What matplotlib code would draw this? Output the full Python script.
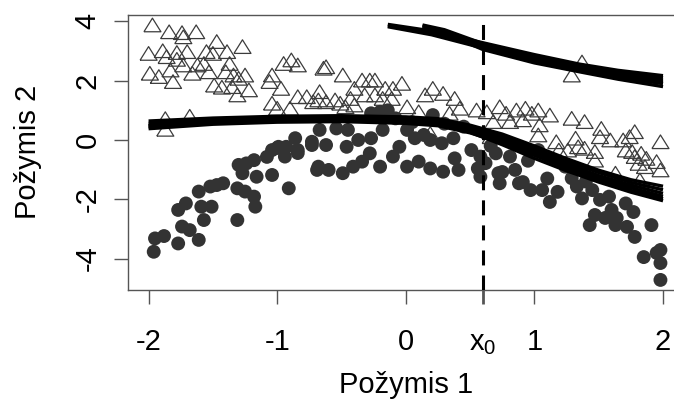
"""Two classes of points (triangles / filled circles) with fitted curve bundles and x0 marker."""
import matplotlib
matplotlib.use("Agg")
import matplotlib.pyplot as plt

plt.rcParams["font.family"] = ["Liberation Sans", "DejaVu Sans"]
plt.rcParams["axes.unicode_minus"] = False

# --- data ----------------------------------------------------------------
X0 = 0.60

TRI_X = [-1.97, -1.84, -1.74, -1.73, -1.63, -1.47, -1.27, -2.00, -1.89, -1.86,
         -1.78, -1.78, -1.70, -1.62, -1.55, -1.50, -1.39, -1.73, -1.99, -1.92,
         -1.83, -1.81, -1.66, -1.57, -1.53, -1.49, -1.43, -1.37, -1.34, -1.30,
         -1.25, -1.31, -1.22, -1.35, -1.40,
         -0.95, -0.89, -0.84, -1.04, -1.06, -0.97, -1.04, -1.00, -0.90, -0.84,
         -0.77, -0.68, -0.67, -0.64, -0.62, -0.49, -0.72, -0.62, -0.55, -0.51,
         -0.43, -0.40, -0.34, -0.28, -0.24, -0.24, -0.16, -0.10, -0.47, -0.40,
         -0.32, -0.18, -0.11, -0.03,
         0.15, 0.21, 0.29, 0.38, 0.01, 0.10, 0.34, 0.42, 0.55, 0.63,
         0.73, 0.78, 0.86, 0.93, 0.98, 0.68, 0.81, 0.91, 0.19, 0.66,
         1.03, 1.12, 1.29, 1.39, 1.52, 1.78, 1.98, 1.04, 1.03, 1.17,
         1.32, 1.34, 1.39, 1.47, 1.47, 1.51, 1.59, 1.69, 1.74, 1.71,
         1.76, 1.78, 1.83, 1.87, 1.81, 1.86, 1.95, 1.98, 1.63, 1.82,
         1.26, 1.19,
         -1.87, -1.87, -1.68, 1.37, 1.29]
TRI_Y = [3.88, 3.65, 3.62, 3.48, 3.65, 3.32, 3.15, 2.92, 3.01, 2.81,
         2.95, 2.72, 2.98, 2.53, 2.98, 2.92, 2.98, 2.53, 2.25, 2.14,
         2.36, 1.97, 2.25, 2.58, 2.30, 1.85, 1.78, 2.58, 2.19, 2.08,
         2.19, 1.52, 1.69, 1.80, 2.30,
         2.58, 2.70, 2.53, 2.19, 1.97, 1.74, 1.24, 1.07, 1.07, 1.46,
         1.46, 1.35, 1.63, 2.42, 2.47, 2.19, 1.29, 1.29, 1.35, 1.24,
         1.40, 1.74, 2.02, 2.02, 2.02, 1.52, 1.74, 1.74, 1.12, 1.18,
         1.52, 1.40, 1.40, 1.91,
         1.52, 1.74, 1.57, 1.40, 1.12, 0.95, 0.90, 1.07, 1.01, 0.95,
         1.12, 0.90, 1.01, 1.07, 0.90, 0.62, 0.62, 0.68, 0.22, 0.11,
         1.01, 0.84, 0.73, 0.62, 0.39, 0.28, -0.06, 0.51, 0.17, -0.06,
         0.06, -0.23, -0.28, -0.39, -0.68, 0.11, 0.00, 0.00, 0.11, -0.34,
         -0.39, -0.56, -0.45, -0.62, -0.79, -0.90, -0.73, -1.01, -1.12, -1.35,
         -0.34, -0.34,
         0.72, 0.36, 0.80, 2.63, 2.19]

CIR_X = [-1.96, -1.95, -1.88, -1.77, -1.61, -1.74, -1.68, -1.77, -1.71, -1.59,
         -1.57, -1.51, -1.61, -1.52, -1.42, -1.47, -1.31, -1.31, -1.25, -1.17,
         -1.18, -1.30, -1.27, -1.18, -1.16, -1.24,
         -1.08, -1.00, -0.93, -0.84, -0.69, -0.73,
         -1.04, -0.99, -0.94, -1.04, -0.91, -0.86, -0.84, -0.73, -0.67, -0.62,
         -0.68, -0.60, -0.54, -0.45, -0.46, -0.37, -0.49, -0.41, -0.34, -0.27,
         -0.28, -0.20, -0.18, -0.10, -0.27, -0.20, -0.08, -0.14,
         0.01, 0.21, 0.07, 0.19, 0.28, 0.37, 0.01, 0.10, 0.19, 0.29,
         0.41, 0.38, 0.51, 0.58, 0.56, 0.58, 0.72, 0.73, 0.85, 0.88,
         0.97, 0.81, -0.05, 0.14, 0.05, 0.30, 0.45,
         1.03, 0.62, 0.75, 0.91, 1.06, 1.12, 1.18, 1.29, 1.24, 1.33,
         1.37, 1.45, 1.51, 1.43, 1.47, 1.55, 1.60, 1.64, 1.63, 1.72,
         1.77, 1.71, 1.58, 1.78, 1.91, 1.85, 1.95, 1.98, 1.98, 1.98,
         0.66, 0.70, 0.95, 1.10, 1.40]
CIR_Y = [-3.77, -3.32, -3.24, -3.49, -3.37, -2.92, -3.04, -2.36, -2.14, -2.25,
         -2.70, -2.25, -1.74, -1.57, -1.46, -1.52, -2.70, -1.63, -1.74, -2.25,
         -1.91, -0.84, -1.12, -0.68, -1.24, -0.79,
         -0.57, -0.27, -0.23, -0.44, -1.01, -0.17,
         -0.34, -0.23, -0.56, -1.18, -1.63, 0.06, -0.34, -0.06, 0.34, -0.17,
         -0.90, -1.01, 0.39, 0.34, -0.23, 0.00, -1.12, -0.90, -0.73, 0.06,
         -0.45, -0.90, 0.34, -0.56, 0.90, 0.95, 0.73, 1.00,
         0.34, 0.84, 0.06, 0.00, -0.11, 0.06, -0.90, -0.73, -0.96, -1.07,
         -1.01, -0.62, -0.34, -0.56, -0.96, -1.24, -1.12, -1.46, -1.01, -1.46,
         -1.69, -0.56, -0.23, 0.17, 0.60, 0.55, 0.45,
         -0.34, -0.78, -1.08, -1.42, -1.69, -2.09, -1.75, -1.29, -0.90, -1.57,
         -1.97, -1.69, -2.02, -2.87, -2.53, -2.63, -2.36, -2.63, -2.87, -2.93,
         -2.43, -2.14, -1.91, -3.27, -2.87, -3.95, -3.81, -3.71, -4.15, -4.72,
         -0.20, -0.45, -0.70, -1.30, -1.40]

# lower bundle of curves (all share one x grid)
LOW_X = [-2.0, -1.5, -1.0, -0.5, 0.0, 0.25, 0.5, 0.75, 1.0, 1.25, 1.5, 1.75, 2.0]
LOW_Y = [
    [0.64, 0.74, 0.80, 0.82, 0.78, 0.72, 0.50, 0.20, -0.20, -0.63, -1.02, -1.34, -1.56],
    [0.56, 0.67, 0.73, 0.75, 0.71, 0.64, 0.43, 0.13, -0.29, -0.72, -1.10, -1.43, -1.68],
    [0.50, 0.62, 0.68, 0.70, 0.66, 0.58, 0.36, 0.05, -0.36, -0.80, -1.20, -1.52, -1.80],
    [0.44, 0.57, 0.64, 0.66, 0.61, 0.53, 0.30, -0.03, -0.44, -0.87, -1.27, -1.61, -1.90],
    [0.38, 0.53, 0.60, 0.62, 0.56, 0.48, 0.24, -0.10, -0.52, -0.95, -1.35, -1.70, -1.98],
    [0.48, 0.60, 0.66, 0.68, 0.64, 0.56, 0.26, -0.16, -0.62, -1.04, -1.42, -1.76, -2.05],
]

# upper bundle: two groups start at different x
UP_XA = [-0.14, 0.2, 0.6, 1.0, 1.35, 1.65, 2.0]
UP_YA = [
    [3.90, 3.68, 3.28, 2.88, 2.56, 2.35, 2.17],
    [3.85, 3.60, 3.17, 2.76, 2.44, 2.22, 2.02],
    [3.82, 3.55, 3.10, 2.66, 2.35, 2.12, 1.90],
]
UP_XB = [0.13, 0.3, 0.6, 1.0, 1.35, 1.65, 2.0]
UP_YB = [
    [3.88, 3.72, 3.25, 2.84, 2.52, 2.30, 2.10],
    [3.85, 3.66, 3.14, 2.70, 2.40, 2.18, 1.95],
    [3.82, 3.60, 3.05, 2.60, 2.30, 2.05, 1.80],
]

XTICKS = [-2, -1, 0, X0, 1, 2]
XTICK_LABELS = ["-2", "-1", "0", r"$\mathregular{x_0}$", "1", "2"]
YTICKS = [-4, -2, 0, 2, 4]
YTICK_LABELS = ["-4", "-2", "0", "2", "4"]

# --- figure ----------------------------------------------------------------
W, H = 674, 407
fig = plt.figure(figsize=(W / 100, H / 100), dpi=100)
# plot region runs past the right edge of the picture (cropped original)
ax = fig.add_axes([128 / W, (H - 290) / H, (683.6 - 128) / W, (290 - 15) / H])

tri = [(-1, -0.8), (1, -0.8), (0, 0.8), (-1, -0.8)]
ax.scatter(TRI_X, TRI_Y, marker=tri, s=150, facecolors="none",
           edgecolors="#3c3c3c", linewidths=0.9, zorder=2)
ax.scatter(CIR_X, CIR_Y, marker="o", s=100, color="#333333",
           edgecolors="none", zorder=3)

for ys in LOW_Y:
    ax.plot(LOW_X, ys, color="black", lw=2.4, zorder=4, solid_capstyle="butt")
for ys in UP_YA:
    ax.plot(UP_XA, ys, color="black", lw=2.4, zorder=4, solid_capstyle="butt")
for ys in UP_YB:
    ax.plot(UP_XB, ys, color="black", lw=2.4, zorder=4, solid_capstyle="butt")

ax.axvline(X0, color="black", lw=2.2, dashes=(4.9, 3.3), zorder=5)

ax.set_xlim(-2.16, 2.16)
ax.set_ylim(-5.06, 4.216)

for sp in ax.spines.values():
    sp.set_color("#555555")
    sp.set_linewidth(1.0)

ax.set_xticks(XTICKS)
ax.set_xticklabels(XTICK_LABELS)
ax.set_yticks(YTICKS)
ax.set_yticklabels(YTICK_LABELS, rotation=90, va="center")
ax.tick_params(axis="both", direction="out", length=10, width=1.0,
               color="#555555", labelsize=21, labelcolor="black")
ax.tick_params(axis="x", pad=33)
ax.tick_params(axis="y", pad=9)
for lab in ax.get_xticklabels():
    lab.set_va("baseline")
x0tick = ax.xaxis.get_major_ticks()[3]
x0tick.tick1line.set_color("black")
x0tick.tick1line.set_markeredgewidth(2.0)

fig.text(405.8 / W, 1 - 385 / H, "Požymis 1", fontsize=21,
         ha="center", va="center")
fig.text(28 / W, 1 - 152 / H, "Požymis 2", fontsize=21, rotation=90,
         ha="center", va="center")

fig.savefig("out.png", dpi=100)
